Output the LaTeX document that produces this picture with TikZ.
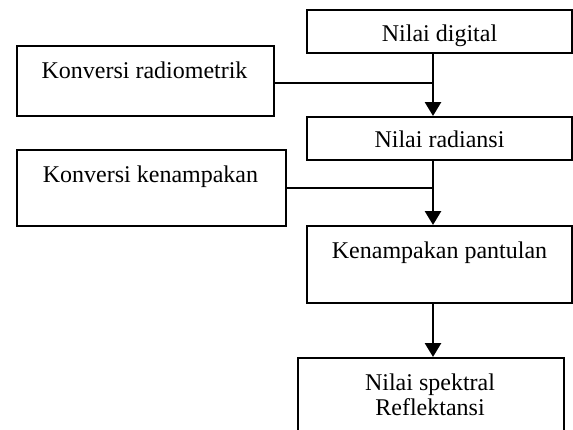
\documentclass[tikz,border=0pt]{standalone}
\usepackage{fontspec}
\setmainfont{Liberation Serif}
\usetikzlibrary{arrows.meta}
\tikzset{
  boxnode/.style={draw=black, line width=1.8pt, rectangle, inner sep=0pt, anchor=north west},
  txt/.style={anchor=base, inner sep=0pt, font=\fontsize{24}{25}\selectfont, align=center},
  ln/.style={draw=black, line width=2pt},
  arr/.style={draw=black, line width=2.8pt, -{Triangle[length=14pt,width=16pt]}}
}
\begin{document}
\begin{tikzpicture}[x=1pt,y=-1pt]
\useasboundingbox (0,0) rectangle (573,429);
\clip (0,0) rectangle (573,429);
\fill[white] (0,0) rectangle (573,429);
% boxes
\node[boxnode, minimum width=265pt, minimum height=43pt] (dig) at (306,9) {};
\node[boxnode, minimum width=257pt, minimum height=70pt] (krad) at (16,45) {};
\node[boxnode, minimum width=265pt, minimum height=43pt] (rad) at (306,116) {};
\node[boxnode, minimum width=269pt, minimum height=76pt] (kken) at (16,149) {};
\node[boxnode, minimum width=265pt, minimum height=77pt] (pan) at (306,225) {};
\node[boxnode, minimum width=266pt, minimum height=90pt] (spk) at (297,357) {};
% texts
\node[txt] (digt) at (439.5,41) {Nilai digital};
\node[txt] (kradt) at (144.5,78) {Konversi radiometrik};
\node[txt] (radt) at (439.5,147) {Nilai radiansi};
\node[txt] (kkent) at (150.5,182) {Konversi kenampakan};
\node[txt] (pant) at (439.5,258) {Kenampakan pantulan};
\node[txt] (spkt1) at (430,390) {Nilai spektral};
\node[txt] (spkt2) at (430,415) {Reflektansi};
% connector positions
\coordinate (ax) at (433,0);
\coordinate (j1) at (433,83);
\coordinate (j2) at (433,188);
% connectors
\draw[arr] (dig.south -| ax) -- (rad.north -| ax);
\draw[ln] (krad.east |- j1) -- (j1);
\draw[arr] (rad.south -| ax) -- (pan.north -| ax);
\draw[ln] (kken.east |- j2) -- (j2);
\draw[arr] (pan.south -| ax) -- (spk.north -| ax);
\end{tikzpicture}
\end{document}
